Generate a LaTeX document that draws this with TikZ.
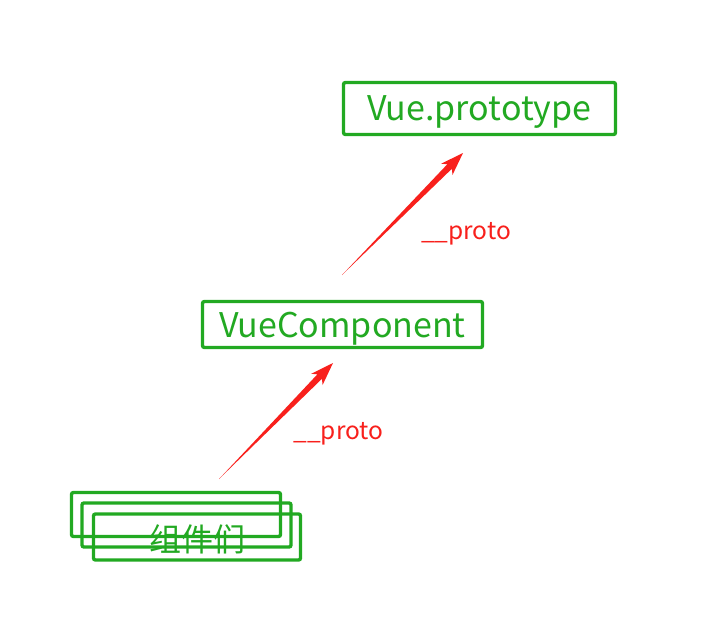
\documentclass[tikz,border=0pt]{standalone}
\usepackage{fontspec}
\setmainfont{Noto Sans CJK SC}
\usetikzlibrary{positioning,calc}
\definecolor{cGr}{HTML}{22A922}
\definecolor{cRd}{HTML}{F8201C}
\tikzset{
  objbox/.style={draw=cGr,line width=3.4pt,rounded corners=2pt,text=cGr,
    font=\fontsize{34}{38}\selectfont,inner sep=0pt,text depth=0pt},
  protolabel/.style={text=cRd,font=\fontsize{24.5}{28}\selectfont,inner sep=0pt},
}
\newcommand\protoarrow[2]{%
  \coordinate (hb) at ($(#2)!19pt!(#1)$);
  \coordinate (bb) at ($(#2)!23pt!(#1)$);
  \fill[cRd] (#1) -- ($(hb)!3.2pt!90:(#2)$) -- ($(bb)!8pt!90:(#2)$) -- (#2)
    -- ($(bb)!8pt!-90:(#2)$) -- ($(hb)!3.2pt!-90:(#2)$) -- cycle;}

\begin{document}
\begin{tikzpicture}[x=1pt,y=-1pt]
\useasboundingbox (0,0) rectangle (701,632);
% --- the two prototypes ---
\node[objbox,minimum width=272pt,minimum height=52pt] (proto) at (479.5,108.5) {Vue.prototype};
\node[objbox,minimum width=280pt,minimum height=46pt] (vuecomp) at (342.5,324.5) {VueComponent};
% --- stack of components ---
\node[objbox,minimum width=209pt,minimum height=44pt] (comp1) at (176,514.5) {};
\node[objbox,minimum width=209pt,minimum height=44pt] (comp2) at (186.5,525) {};
\node[objbox,minimum width=207pt,minimum height=46pt] (comp3) at (197,537) {};
\node[text=cGr,font=\fontsize{32}{36}\selectfont,inner sep=0pt] (comptxt) at (197.5,539) {组件们};
% --- __proto links ---
\coordinate (uptail) at (342,275);
\coordinate (uptip) at (463,153);
\coordinate (lowtail) at (219,479);
\coordinate (lowtip) at (333,363);
\protoarrow{uptail}{uptip}
\protoarrow{lowtail}{lowtip}
\node[protolabel] (uplabel) at (466,234) {\_\_proto};
\node[protolabel] (lowlabel) at (338.5,434) {\_\_proto};
\end{tikzpicture}
\end{document}
